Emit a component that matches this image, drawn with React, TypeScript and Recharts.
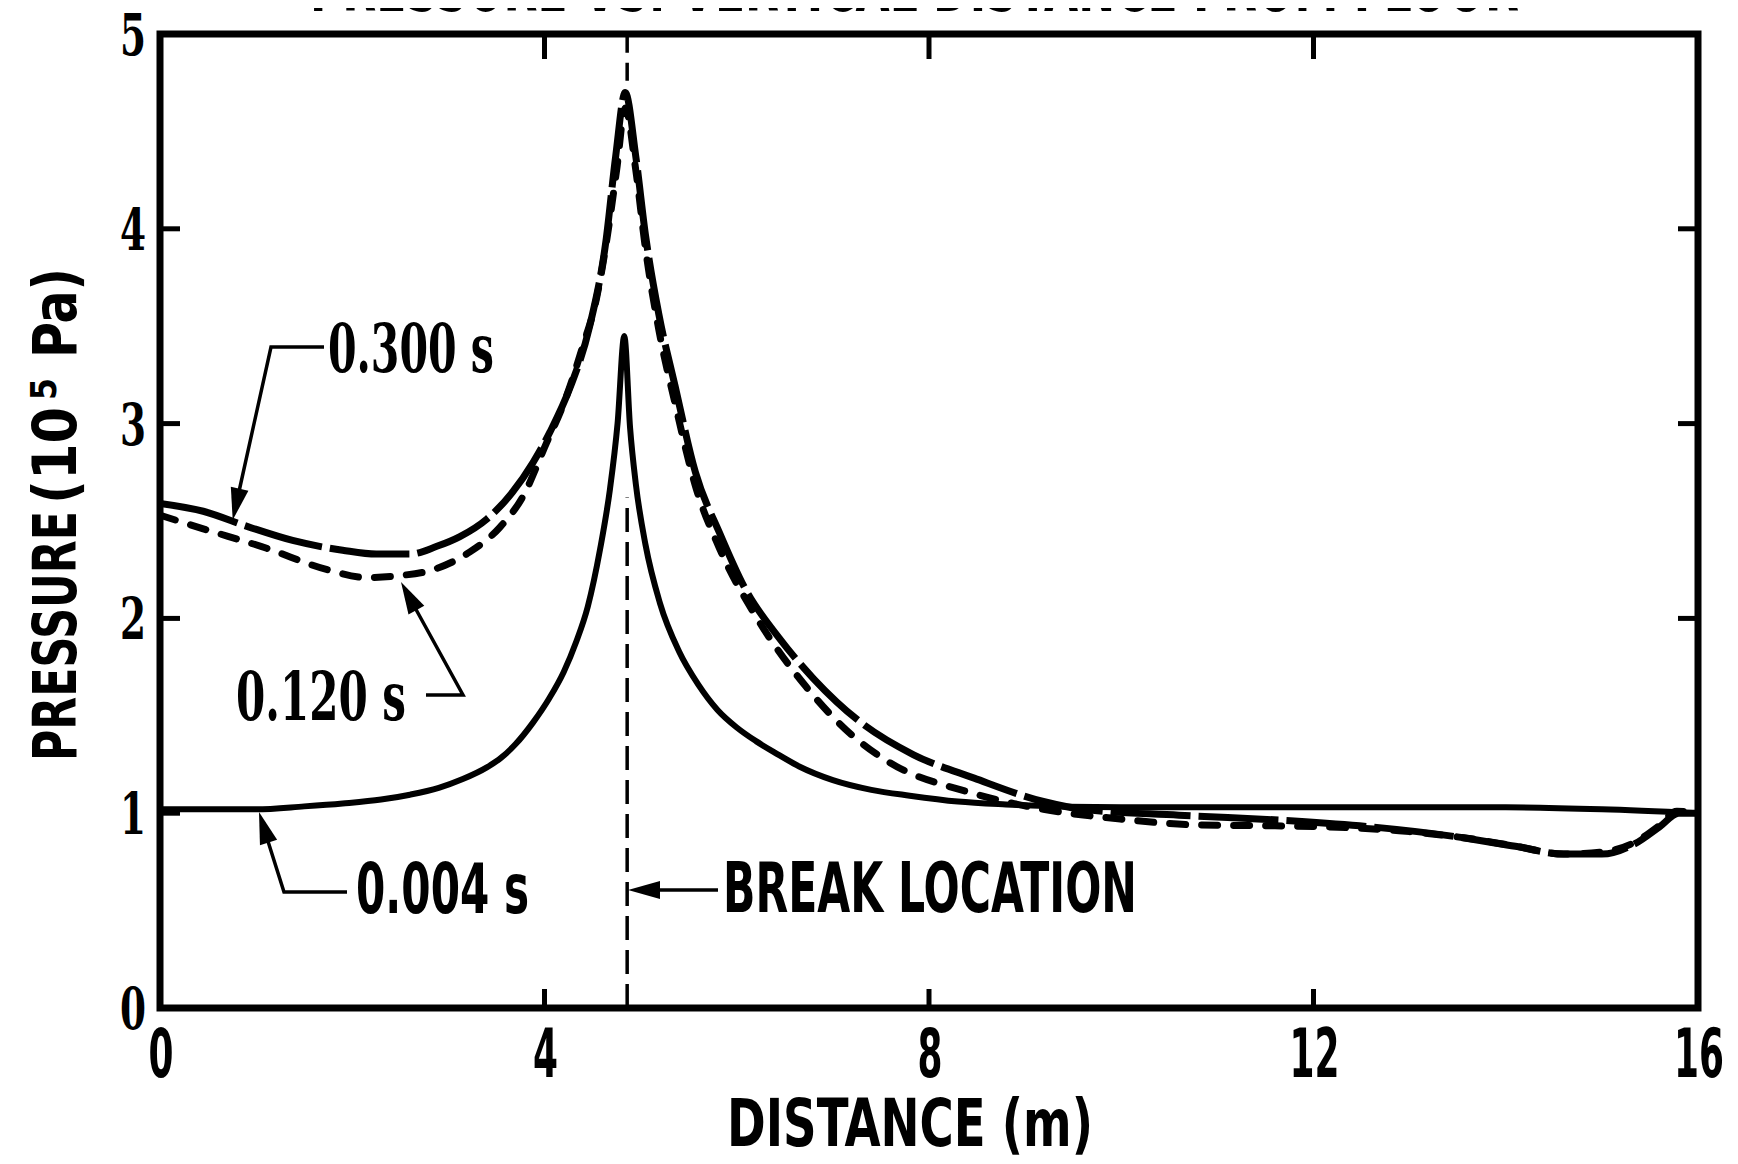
import { LineChart, Line, XAxis, YAxis, ReferenceArea, ReferenceLine } from 'recharts';

// axis ticks
const X_TICKS = [0, 4, 8, 12, 16];
const X_MARKS = [4, 8, 12];
const Y_TICKS = [0, 1, 2, 3, 4, 5];
const Y_MARKS = [1, 2, 3, 4];

// break location (m)
const BREAK_X = 4.86;

// t = 0.004 s
const X_004 = [0, 0.5, 1.0, 1.5, 1.9, 2.3, 2.6, 2.9, 3.15, 3.4, 3.55, 3.7, 3.88, 4.05, 4.2, 4.33, 4.45, 4.58, 4.68, 4.76, 4.83, 4.89, 4.95, 5.05, 5.2, 5.4, 5.6, 5.8, 6.0, 6.2, 6.4, 6.65, 7.0, 7.4, 7.8, 8.3, 8.8, 10, 12, 14, 15, 16];
const P_004 = [1.02, 1.02, 1.02, 1.035, 1.05, 1.07, 1.095, 1.13, 1.175, 1.235, 1.285, 1.355, 1.465, 1.59, 1.725, 1.88, 2.06, 2.36, 2.66, 3.0, 3.45, 2.98, 2.69, 2.38, 2.08, 1.83, 1.66, 1.53, 1.44, 1.37, 1.31, 1.24, 1.17, 1.12, 1.09, 1.06, 1.045, 1.03, 1.03, 1.03, 1.02, 1.0];

// t = 0.120 s
const X_120 = [0, 0.45, 1.11, 1.74, 2.15, 2.5, 2.84, 3.22, 3.54, 3.78, 4.02, 4.19, 4.4, 4.54, 4.65, 4.75, 4.84, 4.95, 5.05, 5.19, 5.36, 5.57, 5.82, 6.2, 6.72, 7.2, 7.59, 8.4, 9.19, 9.99, 10.78, 11.6, 12.15, 12.89, 13.62, 14.11, 14.6, 14.99, 15.34, 15.58, 15.78, 16];
const P_120 = [2.53, 2.46, 2.36, 2.25, 2.21, 2.22, 2.25, 2.34, 2.47, 2.63, 2.9, 3.09, 3.4, 3.64, 3.95, 4.3, 4.62, 4.3, 3.9, 3.48, 3.1, 2.68, 2.36, 2.01, 1.65, 1.4, 1.26, 1.11, 1.02, 0.97, 0.94, 0.935, 0.93, 0.91, 0.87, 0.83, 0.79, 0.8, 0.85, 0.93, 1.01, 1.0];

// t = 0.300 s
const X_300 = [0, 0.45, 0.92, 1.38, 1.9, 2.25, 2.6, 2.88, 3.12, 3.4, 3.67, 3.88, 4.06, 4.27, 4.47, 4.64, 4.74, 4.84, 4.95, 5.05, 5.19, 5.36, 5.57, 5.82, 6.09, 6.44, 6.8, 7.28, 7.84, 8.47, 9.19, 9.6, 10.6, 11.8, 12.6, 13.4, 14.1, 14.6, 15.0, 15.35, 15.6, 15.8, 16];
const P_300 = [2.59, 2.55, 2.47, 2.4, 2.35, 2.33, 2.33, 2.37, 2.42, 2.51, 2.65, 2.8, 2.96, 3.19, 3.5, 3.94, 4.37, 4.7, 4.37, 3.97, 3.56, 3.19, 2.75, 2.44, 2.15, 1.9, 1.69, 1.47, 1.3, 1.18, 1.06, 1.02, 0.99, 0.96, 0.93, 0.885, 0.83, 0.79, 0.79, 0.845, 0.93, 1.0, 1.0];

const zip = (xs: number[], ys: number[]) => xs.map((x, i) => ({ x, y: ys[i] }));

const COND = "'Liberation Sans Narrow', 'DejaVu Sans Condensed', 'Liberation Sans', sans-serif";
const SERIF = "'DejaVu Serif', 'Liberation Serif', serif";

function Txt({ x, y, w, size, family = COND, anchor = 'start', children }: any) {
  return (
    <text
      x={x}
      y={y}
      fontSize={size}
      fontFamily={family}
      fontWeight={700}
      fill="#000"
      stroke="none"
      textAnchor={anchor}
      textLength={w}
      lengthAdjust="spacingAndGlyphs"
    >
      {children}
    </text>
  );
}

function BottomTick({ x, y, payload }: any) {
  const label = String(payload.value);
  return (
    <g>
      {X_MARKS.includes(payload.value) && (
        <line x1={x} y1={y} x2={x} y2={y - 19} stroke="#000" strokeWidth={5} />
      )}
      <Txt x={x + 1} y={y + 69} w={label.length * 25} size={68} anchor="middle">
        {label}
      </Txt>
    </g>
  );
}

function TopTick({ x, y }: any) {
  return <line x1={x} y1={y} x2={x} y2={y + 25} stroke="#000" strokeWidth={5} />;
}

function LeftTick({ x, y, payload }: any) {
  const label = String(payload.value);
  return (
    <g>
      {Y_MARKS.includes(payload.value) && (
        <line x1={x} y1={y} x2={x + 20} y2={y} stroke="#000" strokeWidth={5} />
      )}
      <Txt x={x - 14} y={y + 21} w={26} size={58} family={SERIF} anchor="end">
        {label}
      </Txt>
    </g>
  );
}

function RightTick({ x, y }: any) {
  return <line x1={x} y1={y} x2={x - 20} y2={y} stroke="#000" strokeWidth={5} />;
}

function Arrow({ tip, from, len = 32, half = 9 }: any) {
  const dx = tip[0] - from[0];
  const dy = tip[1] - from[1];
  const d = Math.hypot(dx, dy);
  const ux = dx / d;
  const uy = dy / d;
  const bx = tip[0] - ux * len;
  const by = tip[1] - uy * len;
  const pts = `${tip[0]},${tip[1]} ${bx - uy * half},${by + ux * half} ${bx + uy * half},${by - ux * half}`;
  return <polygon points={pts} fill="#000" />;
}

function Overlay() {
  const lw = 3.5;
  return (
    <svg
      width={1738}
      height={1164}
      style={{ position: 'absolute', left: 0, top: 0, pointerEvents: 'none' }}
    >
      <Txt x={310} y={11} w={1209} size={68}>
        PRESSURE VS. VERTICAL DISTANCE FROM FLOOR
      </Txt>

      {/* y axis title */}
      <g transform="translate(76, 761) rotate(-90)">
        <Txt x={0} y={0} w={250} size={61}>PRESSURE</Txt>
      </g>
      <g transform="translate(76, 504) rotate(-90)">
        <Txt x={0} y={0} w={97} size={61}>(10</Txt>
      </g>
      <g transform="translate(56, 400) rotate(-90)">
        <Txt x={0} y={0} w={22} size={36}>5</Txt>
      </g>
      <g transform="translate(76, 358) rotate(-90)">
        <Txt x={0} y={0} w={90} size={61}>Pa)</Txt>
      </g>

      <Txt x={727} y={1146} w={366} size={66}>DISTANCE (m)</Txt>

      {/* 0.300 s */}
      <polyline points="324,347 271,347 238,496" fill="none" stroke="#000" strokeWidth={lw} />
      <Arrow tip={[232.7, 520]} from={[271, 347]} />
      <Txt x={328} y={372} w={166} size={67} family={SERIF}>0.300 s</Txt>

      {/* 0.120 s */}
      <polyline points="426,695 463,695 413,604" fill="none" stroke="#000" strokeWidth={lw} />
      <Arrow tip={[401, 582]} from={[463, 695]} />
      <Txt x={236} y={720} w={170} size={67} family={SERIF}>0.120 s</Txt>

      {/* 0.004 s */}
      <polyline points="347,892 284,892 266,835" fill="none" stroke="#000" strokeWidth={lw} />
      <Arrow tip={[259, 812]} from={[284, 892]} />
      <Txt x={356} y={913} w={173} size={69}>0.004 s</Txt>

      {/* break location */}
      <line x1={718} y1={890} x2={650} y2={890} stroke="#000" strokeWidth={lw} />
      <Arrow tip={[628, 890]} from={[718, 890]} />
      <Txt x={723} y={912} w={414} size={69}>BREAK LOCATION</Txt>
    </svg>
  );
}

export default function App() {
  return (
    <div
      style={{
        position: 'relative',
        width: 1738,
        height: 1164,
        margin: -8,
        overflow: 'hidden',
        background: '#fff',
      }}
    >
      <LineChart width={1738} height={1164} margin={{ top: 33, right: 39, bottom: 155, left: 159 }}>
        <XAxis
          xAxisId="b"
          type="number"
          dataKey="x"
          domain={[0, 16]}
          ticks={X_TICKS}
          interval={0}
          height={1}
          axisLine={false}
          tickLine={false}
          tickSize={0}
          tickMargin={0}
          tick={<BottomTick />}
          allowDataOverflow
        />
        <XAxis
          xAxisId="t"
          orientation="top"
          type="number"
          dataKey="x"
          domain={[0, 16]}
          ticks={X_MARKS}
          interval={0}
          height={1}
          axisLine={false}
          tickLine={false}
          tickSize={0}
          tickMargin={0}
          tick={<TopTick />}
          allowDataOverflow
        />
        <YAxis
          yAxisId="l"
          type="number"
          domain={[0, 5]}
          ticks={Y_TICKS}
          interval={0}
          width={1}
          axisLine={false}
          tickLine={false}
          tickSize={0}
          tickMargin={0}
          tick={<LeftTick />}
          allowDataOverflow
        />
        <YAxis
          yAxisId="r"
          orientation="right"
          type="number"
          domain={[0, 5]}
          ticks={Y_MARKS}
          interval={0}
          width={1}
          axisLine={false}
          tickLine={false}
          tickSize={0}
          tickMargin={0}
          tick={<RightTick />}
          allowDataOverflow
        />

        <ReferenceLine
          xAxisId="b"
          yAxisId="l"
          segment={[{ x: BREAK_X, y: 0 }, { x: BREAK_X, y: 2.62 }]}
          stroke="#000"
          strokeWidth={3.5}
          strokeDasharray="24 10"
        />
        <ReferenceLine
          xAxisId="b"
          yAxisId="l"
          segment={[{ x: BREAK_X, y: 4.76 }, { x: BREAK_X, y: 5 }]}
          stroke="#000"
          strokeWidth={3.5}
          strokeDasharray="18 10"
        />

        <Line
          xAxisId="b"
          yAxisId="l"
          data={zip(X_004, P_004)}
          dataKey="y"
          type="monotone"
          stroke="#000"
          strokeWidth={6}
          strokeLinejoin="round"
          dot={false}
          activeDot={false}
          isAnimationActive={false}
        />
        <Line
          xAxisId="b"
          yAxisId="l"
          data={zip(X_300, P_300)}
          dataKey="y"
          type="monotone"
          stroke="#000"
          strokeWidth={7}
          strokeDasharray="80 8"
          strokeLinejoin="round"
          dot={false}
          activeDot={false}
          isAnimationActive={false}
        />
        <Line
          xAxisId="b"
          yAxisId="l"
          data={zip(X_120, P_120)}
          dataKey="y"
          type="monotone"
          stroke="#000"
          strokeWidth={7}
          strokeDasharray="16 16"
          strokeLinecap="round"
          strokeLinejoin="round"
          dot={false}
          activeDot={false}
          isAnimationActive={false}
        />

        <ReferenceArea
          xAxisId="b"
          yAxisId="l"
          x1={0}
          x2={16}
          y1={0}
          y2={5}
          fill="none"
          fillOpacity={0}
          stroke="#000"
          strokeWidth={7}
        />
      </LineChart>
      <Overlay />
    </div>
  );
}
